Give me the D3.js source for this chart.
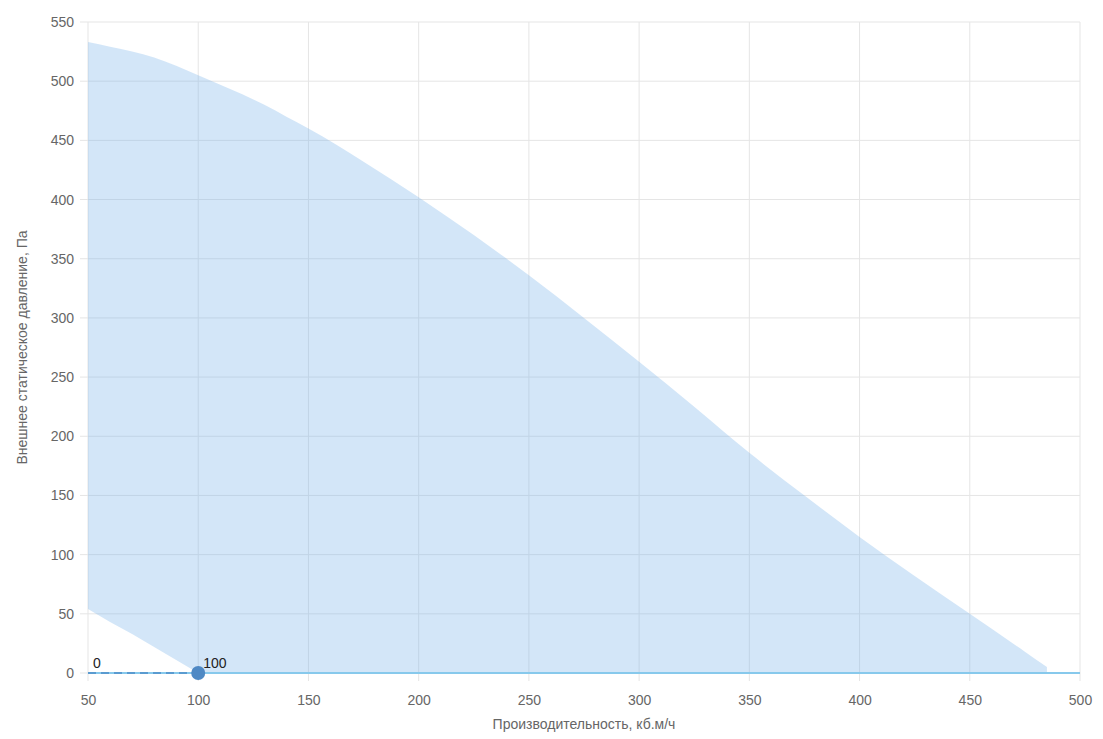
<!DOCTYPE html>
<html>
<head>
<meta charset="utf-8">
<script src="https://cdn.jsdelivr.net/npm/d3@7"></script>
<style>
  body { margin: 0; background: #fff; }
  svg text { font-family: "Liberation Sans", Arial, sans-serif; }
</style>
</head>
<body>
<svg id="chart"></svg>
<script>
// Области рабочих режимов: верхняя и нижняя граница (Па) по производительности (м3/ч)
const flowUpper = [50, 60, 70, 80, 90, 100, 110, 120, 130, 140, 150, 175, 200, 225, 250, 275, 300, 325, 350, 375, 400, 425, 450, 475, 485];
const pressureUpper = [533, 529, 525, 520, 513, 505, 497, 489, 480, 470, 460, 432, 402, 370, 336, 300, 263, 225, 186, 150, 115, 82, 50, 18, 5];
const flowLower = [50, 60, 70, 80, 90, 100, 485];
const pressureLower = [54, 43, 33, 22, 11, 0, 0];

// Рабочая точка
const pointFlow = [50, 100];
const pointPressure = [0, 0];
const pointLabels = ["0", "100"];

const xTicks = [50, 100, 150, 200, 250, 300, 350, 400, 450, 500];
const yTicks = [0, 50, 100, 150, 200, 250, 300, 350, 400, 450, 500, 550];

const svgWidth = 1103, svgHeight = 739;
const margin = { top: 22, right: 23, bottom: 66, left: 88 };
const width = svgWidth - margin.left - margin.right;
const height = svgHeight - margin.top - margin.bottom;

const svg = d3.select("#chart")
    .attr("width", svgWidth)
    .attr("height", svgHeight);

const g = svg.append("g")
    .attr("transform", "translate(" + margin.left + "," + margin.top + ")");

const x = d3.scaleLinear().domain([50, 500]).range([0, width]);
const y = d3.scaleLinear().domain([0, 550]).range([height, 0]);

// сетка
g.append("g")
    .selectAll("line")
    .data(xTicks)
    .join("line")
    .attr("x1", d => x(d)).attr("x2", d => x(d))
    .attr("y1", 0).attr("y2", height + 8)
    .attr("stroke", "#e5e5e5");

g.append("g")
    .selectAll("line")
    .data(yTicks)
    .join("line")
    .attr("x1", -8).attr("x2", width)
    .attr("y1", d => y(d)).attr("y2", d => y(d))
    .attr("stroke", "#e5e5e5");

// область: верх сглаженный по pressureUpper, низ по pressureLower
const areaPath = d3.path();
d3.line()
    .x((d, i) => x(d))
    .y((d, i) => y(pressureUpper[i]))
    .curve(d3.curveMonotoneX)
    .context(areaPath)(flowUpper);
for (let i = flowLower.length - 1; i >= 0; i--) {
    areaPath.lineTo(x(flowLower[i]), y(pressureLower[i]));
}
areaPath.closePath();

g.append("path")
    .attr("d", areaPath.toString())
    .attr("fill", "rgba(120,180,235,0.33)");

// ось X
g.append("g")
    .attr("transform", "translate(0," + height + ")")
    .call(d3.axisBottom(x).tickValues(xTicks).tickSize(0).tickPadding(22))
    .call(a => a.select(".domain").remove())
    .selectAll("text")
    .attr("fill", "#666")
    .style("font-size", "14px");

// ось Y
g.append("g")
    .call(d3.axisLeft(y).tickValues(yTicks).tickSize(0).tickPadding(14))
    .call(a => a.select(".domain").remove())
    .selectAll("text")
    .attr("fill", "#666")
    .style("font-size", "14px");

// линия нулевого давления
g.append("line")
    .attr("x1", x(50)).attr("x2", x(500))
    .attr("y1", y(0)).attr("y2", y(0))
    .attr("stroke", "#87c9ec")
    .attr("stroke-width", 2);

g.append("line")
    .attr("x1", x(pointFlow[0])).attr("x2", x(pointFlow[1]))
    .attr("y1", y(pointPressure[0])).attr("y2", y(pointPressure[1]))
    .attr("stroke", "#5a9bd0")
    .attr("stroke-width", 2)
    .attr("stroke-dasharray", "8,5");

g.append("circle")
    .attr("cx", x(pointFlow[1]))
    .attr("cy", y(pointPressure[1]))
    .attr("r", 7)
    .attr("fill", "#4f89c4");

g.selectAll(".plabel")
    .data(pointLabels)
    .join("text")
    .attr("class", "plabel")
    .attr("x", (d, i) => x(pointFlow[i]) + 5)
    .attr("y", (d, i) => y(pointPressure[i]) - 5)
    .attr("fill", "#222")
    .style("font-size", "14px")
    .text(d => d);

// подписи осей
svg.append("text")
    .attr("x", margin.left + width / 2)
    .attr("y", 729)
    .attr("text-anchor", "middle")
    .attr("fill", "#666")
    .style("font-size", "14px")
    .text("Производительность, кб.м/ч");

svg.append("text")
    .attr("transform", "translate(27," + (margin.top + height / 2) + ") rotate(-90)")
    .attr("text-anchor", "middle")
    .attr("fill", "#666")
    .style("font-size", "14px")
    .text("Внешнее статическое давление, Па");
</script>
</body>
</html>
